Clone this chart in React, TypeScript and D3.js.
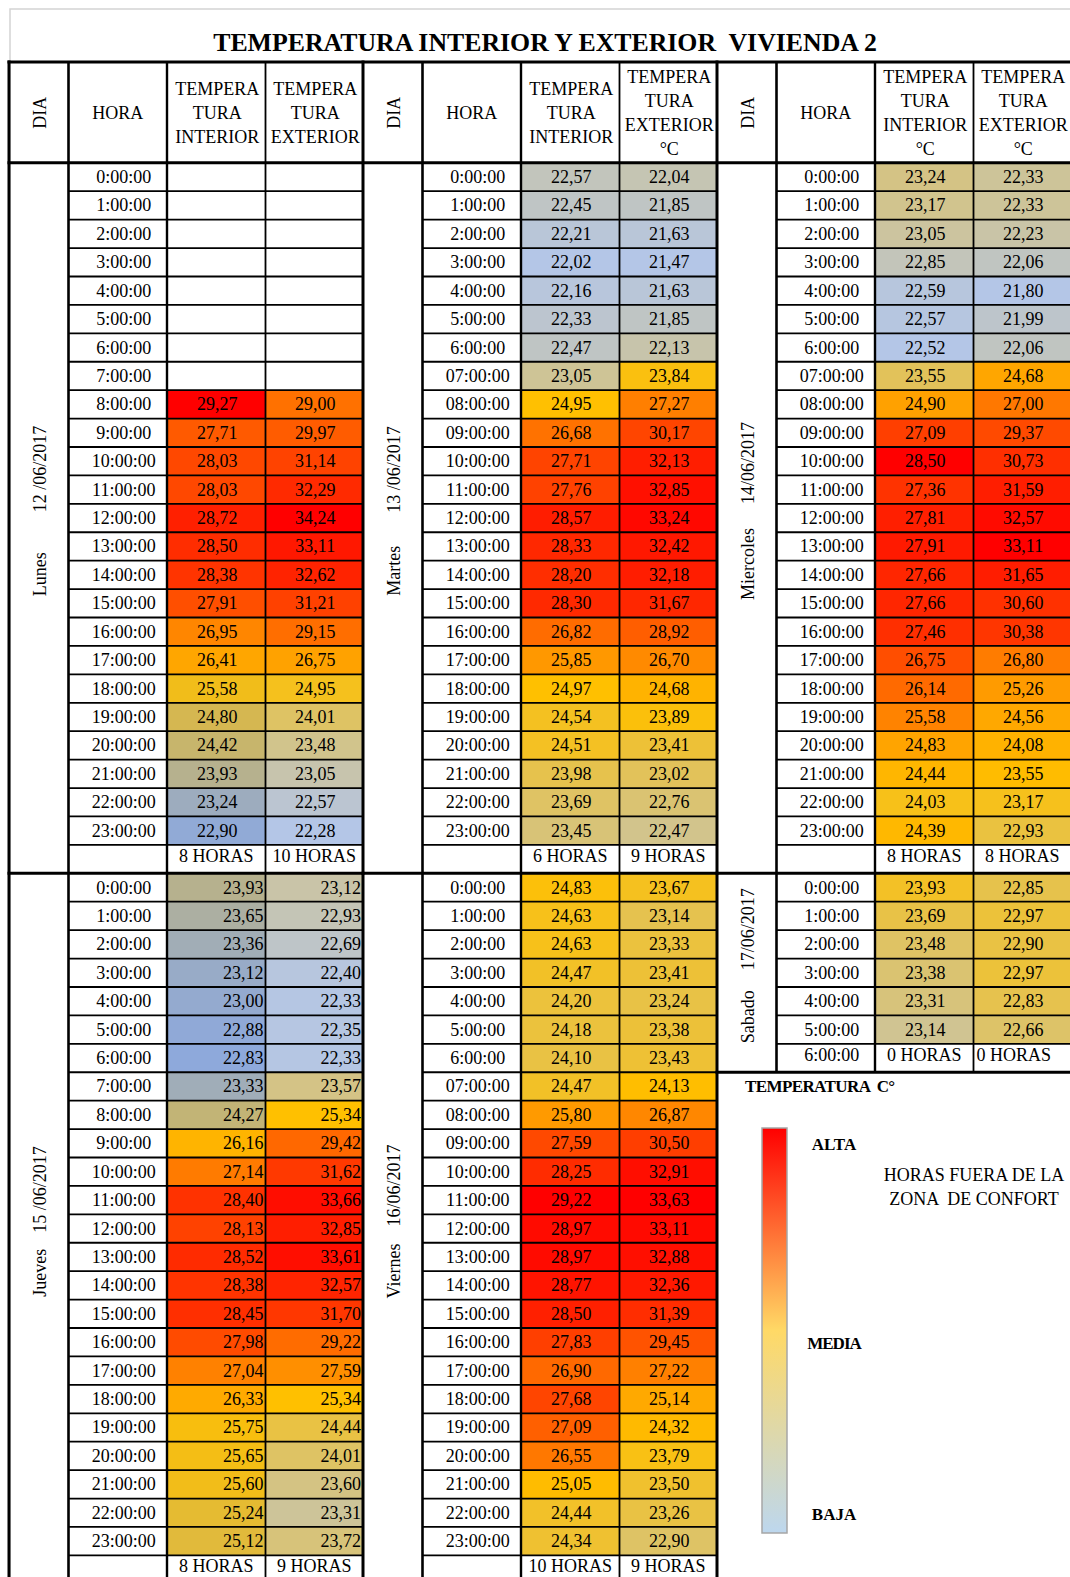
import React from "react";
import * as d3 from "d3";

// ---------- DATA ----------
const horaPlain = [
  "0:00:00", "1:00:00", "2:00:00", "3:00:00", "4:00:00", "5:00:00", "6:00:00", "7:00:00",
  "8:00:00", "9:00:00", "10:00:00", "11:00:00", "12:00:00", "13:00:00", "14:00:00", "15:00:00",
  "16:00:00", "17:00:00", "18:00:00", "19:00:00", "20:00:00", "21:00:00", "22:00:00", "23:00:00",
];
const horaPadded = [
  "0:00:00", "1:00:00", "2:00:00", "3:00:00", "4:00:00", "5:00:00", "6:00:00", "07:00:00",
  "08:00:00", "09:00:00", "10:00:00", "11:00:00", "12:00:00", "13:00:00", "14:00:00", "15:00:00",
  "16:00:00", "17:00:00", "18:00:00", "19:00:00", "20:00:00", "21:00:00", "22:00:00", "23:00:00",
];
const horaSabado = ["0:00:00", "1:00:00", "2:00:00", "3:00:00", "4:00:00", "5:00:00", "6:00:00"];

const lunesTI: (number | null)[] = [null, null, null, null, null, null, null, null,
  29.27, 27.71, 28.03, 28.03, 28.72, 28.50, 28.38, 27.91, 26.95, 26.41, 25.58, 24.80, 24.42, 23.93, 23.24, 22.90];
const lunesTE: (number | null)[] = [null, null, null, null, null, null, null, null,
  29.00, 29.97, 31.14, 32.29, 34.24, 33.11, 32.62, 31.21, 29.15, 26.75, 24.95, 24.01, 23.48, 23.05, 22.57, 22.28];
const martesTI = [22.57, 22.45, 22.21, 22.02, 22.16, 22.33, 22.47, 23.05, 24.95, 26.68, 27.71, 27.76,
  28.57, 28.33, 28.20, 28.30, 26.82, 25.85, 24.97, 24.54, 24.51, 23.98, 23.69, 23.45];
const martesTE = [22.04, 21.85, 21.63, 21.47, 21.63, 21.85, 22.13, 23.84, 27.27, 30.17, 32.13, 32.85,
  33.24, 32.42, 32.18, 31.67, 28.92, 26.70, 24.68, 23.89, 23.41, 23.02, 22.76, 22.47];
const miercolesTI = [23.24, 23.17, 23.05, 22.85, 22.59, 22.57, 22.52, 23.55, 24.90, 27.09, 28.50, 27.36,
  27.81, 27.91, 27.66, 27.66, 27.46, 26.75, 26.14, 25.58, 24.83, 24.44, 24.03, 24.39];
const miercolesTE = [22.33, 22.33, 22.23, 22.06, 21.80, 21.99, 22.06, 24.68, 27.00, 29.37, 30.73, 31.59,
  32.57, 33.11, 31.65, 30.60, 30.38, 26.80, 25.26, 24.56, 24.08, 23.55, 23.17, 22.93];
const juevesTI = [23.93, 23.65, 23.36, 23.12, 23.00, 22.88, 22.83, 23.33, 24.27, 26.16, 27.14, 28.40,
  28.13, 28.52, 28.38, 28.45, 27.98, 27.04, 26.33, 25.75, 25.65, 25.60, 25.24, 25.12];
const juevesTE = [23.12, 22.93, 22.69, 22.40, 22.33, 22.35, 22.33, 23.57, 25.34, 29.42, 31.62, 33.66,
  32.85, 33.61, 32.57, 31.70, 29.22, 27.59, 25.34, 24.44, 24.01, 23.60, 23.31, 23.72];
const viernesTI = [24.83, 24.63, 24.63, 24.47, 24.20, 24.18, 24.10, 24.47, 25.80, 27.59, 28.25, 29.22,
  28.97, 28.97, 28.77, 28.50, 27.83, 26.90, 27.68, 27.09, 26.55, 25.05, 24.44, 24.34];
const viernesTE = [23.67, 23.14, 23.33, 23.41, 23.24, 23.38, 23.43, 24.13, 26.87, 30.50, 32.91, 33.63,
  33.11, 32.88, 32.36, 31.39, 29.45, 27.22, 25.14, 24.32, 23.79, 23.50, 23.26, 22.90];
const sabadoTI = [23.93, 23.69, 23.48, 23.38, 23.31, 23.14];
const sabadoTE = [22.85, 22.97, 22.90, 22.97, 22.83, 22.66];

const dayNames = ["Lunes", "Martes", "Miercoles", "Jueves", "Viernes", "Sabado"];
const dayDates = ["12 /06/2017", "13 /06/2017", "14/06/2017", "15 /06/2017", "16/06/2017", "17/06/2017"];
const summaries = [
  ["8 HORAS", "10 HORAS"],
  ["6 HORAS", "9 HORAS"],
  ["8 HORAS", "8 HORAS"],
  ["8 HORAS", "9 HORAS"],
  ["10 HORAS", "9 HORAS"],
  ["0 HORAS", "0 HORAS"],
];

const titleText = "TEMPERATURA INTERIOR Y EXTERIOR  VIVIENDA 2";
const headerTI = [
  ["TEMPERA", "TURA", "INTERIOR"],
  ["TEMPERA", "TURA", "INTERIOR"],
  ["TEMPERA", "TURA", "INTERIOR", "°C"],
];
const headerTE = [
  ["TEMPERA", "TURA", "EXTERIOR"],
  ["TEMPERA", "TURA", "EXTERIOR", "°C"],
  ["TEMPERA", "TURA", "EXTERIOR", "°C"],
];
const legendTitle = "TEMPERATURA  C°";
const legendLabels = ["ALTA", "MEDIA", "BAJA"];
const legendNote = ["HORAS FUERA DE LA", "ZONA  DE CONFORT"];

// ---------- LAYOUT / STYLE ----------
const SERIF = "'Liberation Serif', 'Times New Roman', serif";
const ROW_H = 28.42;
const TOP = 162.8;
const TABLE_TOP = 62;
const GROUP_W = 354;
const colWidths = [59.5, 98.5, 98.5, 97.5]; // DIA, HORA, TI, TE
const labelGap = [40, 33, 24, 16, 17, 20];
const SUMMARY_SHIFT = -3.5;
const LOW = "#B4C6E7";
const LOW_DARK = "#8EA9DB";
const MID = "#FFC000";
const HIGH = "#FF0000";

type Block = {
  group: number; slot: number; name: string; date: string; horas: string[];
  ti: (number | null)[]; te: (number | null)[]; summary: string[]; right: boolean;
};

const blocks: Block[] = [
  { group: 0, slot: 0, name: dayNames[0], date: dayDates[0], horas: horaPlain, ti: lunesTI, te: lunesTE, summary: summaries[0], right: false },
  { group: 1, slot: 0, name: dayNames[1], date: dayDates[1], horas: horaPadded, ti: martesTI, te: martesTE, summary: summaries[1], right: false },
  { group: 2, slot: 0, name: dayNames[2], date: dayDates[2], horas: horaPadded, ti: miercolesTI, te: miercolesTE, summary: summaries[2], right: false },
  { group: 0, slot: 1, name: dayNames[3], date: dayDates[3], horas: horaPlain, ti: juevesTI, te: juevesTE, summary: summaries[3], right: true },
  { group: 1, slot: 1, name: dayNames[4], date: dayDates[4], horas: horaPadded, ti: viernesTI, te: viernesTE, summary: summaries[4], right: false },
  { group: 2, slot: 1, name: dayNames[5], date: dayDates[5], horas: horaSabado, ti: sabadoTI, te: sabadoTE, summary: summaries[5], right: false },
];

const fmt = (v: number) => d3.format(".2f")(v).replace(".", ",");

export default function App() {
  const y = d3.scaleLinear().domain([0, 50]).range([TOP, TOP + 50 * ROW_H]);
  const gx = d3.scaleLinear().domain([0, 1]).range([9, 9 + GROUP_W]);
  const cum = Array.from(d3.cumsum(colWidths));
  const colStart = (g: number, c: number) => gx(g) + (c === 0 ? 0 : cum[c - 1]);
  const colEnd = (g: number, c: number) => gx(g) + cum[c];
  const colMid = (g: number, c: number) => (colStart(g, c) + colEnd(g, c)) / 2;

  // color scales per group column (both blocks combined), 3-color scale with median midpoint
  const scales: Record<string, d3.ScaleLinear<string, string>> = {};
  [0, 1, 2].forEach((g) => {
    (["ti", "te"] as const).forEach((k) => {
      const vals = blocks.filter((b) => b.group === g).flatMap((b) => b[k].filter((v): v is number => v != null));
      const low = g === 0 && k === "ti" ? LOW_DARK : LOW;
      scales[`${g}-${k}`] = d3
        .scaleLinear<string>()
        .domain([d3.min(vals)!, d3.median(vals)!, d3.max(vals)!])
        .range([low, MID, HIGH])
        .interpolate(d3.interpolateRgb);
    });
  });

  const fills: React.ReactNode[] = [];
  const texts: React.ReactNode[] = [];
  const lines: React.ReactNode[] = [];

  blocks.forEach((b, bi) => {
    const off = b.slot * 25;
    const sumIdx = b.ti.length;
    const nRows = sumIdx + 1;
    const g = b.group;
    for (let r = 0; r < nRows; r++) {
      const h = b.horas[r];
      if (h) {
        texts.push(
          <text key={`h-${bi}-${r}`} x={colMid(g, 1) + 6} y={y(off + r) + ROW_H / 2 + 6 + (r === sumIdx ? SUMMARY_SHIFT : 0)} textAnchor="middle" fontSize={18}>
            {h}
          </text>
        );
      }
    }
    (["ti", "te"] as const).forEach((k, ki) => {
      const c = 2 + ki;
      const sc = scales[`${g}-${k}`];
      b[k].forEach((v, r) => {
        if (v == null) return;
        fills.push(
          <rect key={`f-${bi}-${k}-${r}`} x={colStart(g, c)} y={y(off + r)} width={colWidths[c]} height={ROW_H} fill={sc(v)} />
        );
        texts.push(
          <text
            key={`v-${bi}-${k}-${r}`}
            x={b.right ? colEnd(g, c) - 2 : colMid(g, c) + 1}
            y={y(off + r) + ROW_H / 2 + 6}
            textAnchor={b.right ? "end" : "middle"}
            fontSize={18}
          >
            {fmt(v)}
          </text>
        );
      });
      const leftAlign = bi === 5 && k === "te";
      texts.push(
        <text
          key={`s-${bi}-${k}`}
          x={leftAlign ? colStart(g, c) + 3 : colMid(g, c)}
          y={y(off + sumIdx) + ROW_H / 2 + 6 + SUMMARY_SHIFT}
          textAnchor={leftAlign ? "start" : "middle"}
          fontSize={18}
        >
          {b.summary[ki]}
        </text>
      );
    });
    const cy = (y(off) + y(off + nRows)) / 2 - 7;
    const cx = colMid(g, 0) + 1;
    texts.push(
      <text
        key={`d-${bi}`}
        transform={`translate(${cx},${cy}) rotate(-90)`}
        textAnchor="middle"
        dominantBaseline="central"
        fontSize={18}
      >
        <tspan>{b.name}</tspan>
        <tspan dx={labelGap[bi]}>{b.date}</tspan>
      </text>
    );
    for (let r = 1; r < nRows; r++) {
      lines.push(
        <line key={`rl-${bi}-${r}`} x1={colStart(g, 1)} x2={colEnd(g, 3)} y1={y(off + r)} y2={y(off + r)} stroke="#000" strokeWidth={1.8} />
      );
    }
    lines.push(
      <line key={`bb-${bi}`} x1={gx(g) - 1.5} x2={colEnd(g, 3) + 1.5} y1={y(off + nRows)} y2={y(off + nRows)} stroke="#000" strokeWidth={3} />
    );
  });

  [0, 1, 2].forEach((g) => {
    const bottom = g === 2 ? y(32) : y(50);
    const widths = [2.6, 2.4, 1.8];
    [1, 2, 3].forEach((c, i) => {
      lines.push(
        <line key={`vl-${g}-${c}`} x1={colStart(g, c)} x2={colStart(g, c)} y1={TABLE_TOP} y2={bottom} stroke="#000" strokeWidth={widths[i]} />
      );
    });
    lines.push(
      <line key={`vg-${g}`} x1={gx(g)} x2={gx(g)} y1={TABLE_TOP - 1.5} y2={y(50)} stroke="#000" strokeWidth={3} />
    );
  });
  lines.push(<line key="top" x1={7.5} x2={1072} y1={TABLE_TOP} y2={TABLE_TOP} stroke="#000" strokeWidth={3} />);
  lines.push(<line key="hb" x1={7.5} x2={1072} y1={TOP} y2={TOP} stroke="#000" strokeWidth={3} />);

  const headers: React.ReactNode[] = [];
  [0, 1, 2].forEach((g) => {
    const hc = (TABLE_TOP + TOP) / 2 + 0.4;
    headers.push(
      <text key={`hd-${g}`} transform={`translate(${colMid(g, 0) + 1},${hc}) rotate(-90)`} textAnchor="middle" dominantBaseline="central" fontSize={18}>
        DIA
      </text>
    );
    headers.push(
      <text key={`hh-${g}`} x={colMid(g, 1)} y={hc + 6} textAnchor="middle" fontSize={18}>
        HORA
      </text>
    );
    [headerTI[g], headerTE[g]].forEach((ls, ki) => {
      ls.forEach((t, i) => {
        headers.push(
          <text key={`ht-${g}-${ki}-${i}`} x={colMid(g, 2 + ki) + 1} y={hc + (i - (ls.length - 1) / 2) * 24.1 + 6} textAnchor="middle" fontSize={18}>
            {t}
          </text>
        );
      });
    });
  });

  const legX = 762, legY = 1128, legW = 25, legH = 405;

  return (
    <div style={{ position: "absolute", left: 0, top: 0 }}>
      <svg width={1070} height={1577} viewBox="0 0 1070 1577" style={{ display: "block", background: "#fff" }} fontFamily={SERIF}>
        <defs>
          <linearGradient id="legGrad" x1="0" y1="0" x2="0" y2="1">
            <stop offset="0" stopColor="#FF0000" />
            <stop offset="0.5" stopColor="#FFD966" />
            <stop offset="1" stopColor="#BDD7EE" />
          </linearGradient>
        </defs>
        <rect x={0} y={0} width={1070} height={1577} fill="#fff" />
        <rect x={10} y={9} width={1075} height={1600} fill="none" stroke="#d4d4d4" strokeWidth={1.5} />
        <text x={545} y={50.5} textAnchor="middle" fontSize={25.8} fontWeight="bold" xmlSpace="preserve" style={{ whiteSpace: "pre" }}>
          {titleText}
        </text>
        {fills}
        {lines}
        {headers}
        {texts}
        <text x={745} y={1092} fontSize={17} fontWeight="bold" xmlSpace="preserve" style={{ whiteSpace: "pre" }} letterSpacing={-0.6}>
          {legendTitle}
        </text>
        <rect x={legX} y={legY} width={legW} height={legH} fill="url(#legGrad)" stroke="#a6a6a6" strokeWidth={1.5} />
        {legendLabels.map((l, i) => (
          <text key={l} x={834} y={[1144, 1343, 1514][i] + 6} textAnchor="middle" fontSize={17} fontWeight="bold" letterSpacing={l === "MEDIA" ? -1 : 0}>
            {l}
          </text>
        ))}
        {legendNote.map((l, i) => (
          <text key={l} x={974} y={1175 + i * 24 + 6} textAnchor="middle" fontSize={18} xmlSpace="preserve" style={{ whiteSpace: "pre" }}>
            {l}
          </text>
        ))}
      </svg>
    </div>
  );
}
